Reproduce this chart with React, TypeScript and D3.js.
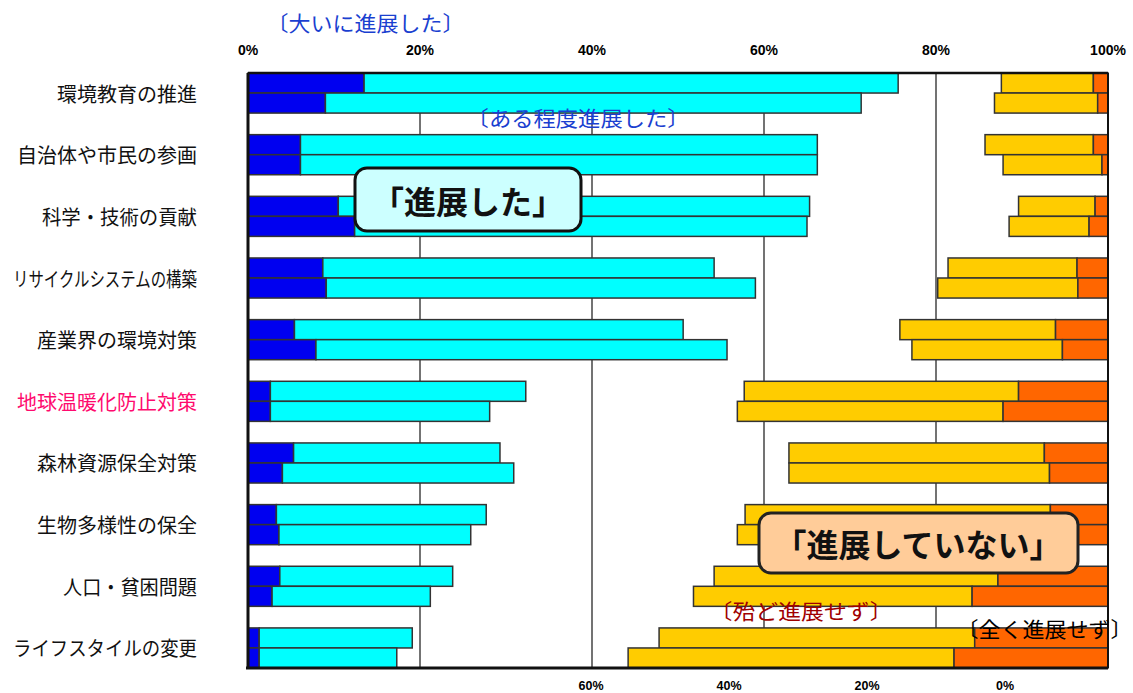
import React from "react";
import * as d3 from "d3";

// ---- data ----
const categories = [
  "環境教育の推進",
  "自治体や市民の参画",
  "科学・技術の貢献",
  "リサイクルシステムの構築",
  "産業界の環境対策",
  "地球温暖化防止対策",
  "森林資源保全対策",
  "生物多様性の保全",
  "人口・貧困問題",
  "ライフスタイルの変更",
];
const surveys = ["A", "B"];
// 〔大いに進展した〕
const greatProgress = [
  [13.5, 9.0], [6.1, 6.1], [10.5, 12.4], [8.7, 9.1], [5.4, 7.9],
  [2.6, 2.6], [5.3, 4.0], [3.3, 3.6], [3.7, 2.8], [1.3, 1.3],
];
// 〔ある程度進展した〕
const someProgress = [
  [62.1, 62.3], [60.1, 60.1], [54.8, 52.6], [45.5, 49.9], [45.2, 47.8],
  [29.7, 25.5], [24.0, 26.9], [24.4, 22.3], [20.1, 18.4], [17.8, 16.0],
];
// 〔殆ど進展せず〕
const littleProgress = [
  [10.7, 12.0], [12.6, 11.5], [8.9, 9.3], [15.0, 16.3], [18.1, 17.5],
  [31.9, 30.9], [29.7, 30.3], [35.5, 36.1], [33.0, 32.4], [36.7, 37.9],
];
// 〔全く進展せず〕
const noProgress = [
  [1.7, 1.2], [1.7, 0.7], [1.5, 2.2], [3.6, 3.5], [6.1, 5.3],
  [10.4, 12.2], [7.4, 6.8], [6.7, 7.0], [12.8, 15.8], [15.5, 17.9],
];
const topTicks = [0, 20, 40, 60, 80, 100];
const bottomTicks = [60, 40, 20, 0];
const highlighted = "地球温暖化防止対策";

// ---- styles ----
const COLORS = { great: "#0000f0", some: "#00ffff", little: "#ffcc00", none: "#ff6600" };
const labelWidths: Record<string, number> = {
  "リサイクルシステムの構築": 184,
  "ライフスタイルの変更": 184,
  "科学・技術の貢献": 155,
  "人口・貧困問題": 134,
};
const JP = "'Noto Sans CJK JP', 'Noto Sans', sans-serif";

export default function App() {
  const W = 1133, H = 693;
  const left = 248, right = 1108, top = 73, bottom = 668;
  const x = d3.scaleLinear().domain([0, 100]).range([left, right]);
  const xBottom = d3.scaleLinear().domain([0, 60]).range([1005, 591]);
  const y = d3.scaleBand<string>().domain(categories).range([top, bottom]).paddingInner(0.35).paddingOuter(0);
  const ySub = d3.scaleBand<string>().domain(surveys).range([0, y.bandwidth()]);

  const bars: any[] = [];
  categories.forEach((cat, i) => {
    surveys.forEach((s, j) => {
      const yy = (y(cat) as number) + (ySub(s) as number);
      const h = ySub.bandwidth();
      const a = greatProgress[i][j];
      const b = someProgress[i][j];
      const c = littleProgress[i][j];
      const d = noProgress[i][j];
      bars.push({ key: `${i}-${j}-g`, x0: 0, x1: a, y: yy, h, fill: COLORS.great });
      bars.push({ key: `${i}-${j}-s`, x0: a, x1: a + b, y: yy, h, fill: COLORS.some });
      bars.push({ key: `${i}-${j}-l`, x0: 100 - d - c, x1: 100 - d, y: yy, h, fill: COLORS.little });
      bars.push({ key: `${i}-${j}-n`, x0: 100 - d, x1: 100, y: yy, h, fill: COLORS.none });
    });
  });

  // visible span [v0, v1] of a bracketed annotation; brackets carry side bearings
  const ann = (txt: string, v0: number, v1: number, yc: number, fill: string) => {
    const fs = 21;
    return (
      <text x={v0 - 0.4 * fs} y={yc} dominantBaseline="central" fontFamily={JP} fontSize={fs} fill={fill}
        textLength={v1 - v0 + fs} lengthAdjust="spacingAndGlyphs">{txt}</text>
    );
  };

  return (
    <svg width={W} height={H} style={{ position: "absolute", left: 0, top: 0, background: "#fff" }}>
      {/* gridlines */}
      {topTicks.filter((t) => t > 0 && t < 100).map((t) => (
        <line key={t} x1={x(t)} x2={x(t)} y1={top} y2={bottom} stroke="#444" strokeWidth={1.5} />
      ))}
      {/* bars */}
      {bars.map((b) => (
        <rect key={b.key} x={x(b.x0)} y={b.y} width={x(b.x1) - x(b.x0)} height={b.h}
          fill={b.fill} stroke="#333" strokeWidth={1.5} />
      ))}
      {/* frame */}
      <line x1={left} x2={right} y1={top} y2={top} stroke="#111" strokeWidth={2.5} />
      <line x1={right} x2={right} y1={top} y2={bottom} stroke="#111" strokeWidth={2} />
      <line x1={left} x2={left} y1={top} y2={bottom} stroke="#111" strokeWidth={3} />
      <line x1={left - 2} x2={right} y1={bottom} y2={bottom} stroke="#111" strokeWidth={3} />
      {/* top ticks */}
      {topTicks.map((t) => (
        <text key={t} x={x(t)} y={50} textAnchor="middle" dominantBaseline="central"
          fontFamily="'Liberation Sans', Arial, sans-serif" fontWeight="bold" fontSize={14} fill="#000">
          {t}%
        </text>
      ))}
      {/* bottom ticks */}
      {bottomTicks.map((t) => (
        <text key={t} x={xBottom(t)} y={686} textAnchor="middle" dominantBaseline="central"
          fontFamily="'Liberation Sans', Arial, sans-serif" fontWeight="bold" fontSize={12.5} fill="#000">
          {t}%
        </text>
      ))}
      {/* category labels */}
      {categories.map((c) => (
        <text key={c} x={197} y={(y(c) as number) + y.bandwidth() / 2} textAnchor="end" dominantBaseline="central"
          fontFamily={JP} fontSize={20} fill={c === highlighted ? "#ff0a6e" : "#111"}
          {...(labelWidths[c] ? { textLength: labelWidths[c], lengthAdjust: "spacingAndGlyphs" } : {})}>
          {c}
        </text>
      ))}
      {/* series annotations */}
      {ann("〔大いに進展した〕", 275, 452, 22, "#1a3fd0")}
      {ann("〔ある程度進展した〕", 475, 677, 117, "#1a3fd0")}
      {ann("〔殆ど進展せず〕", 718, 880, 610, "#a00000")}
      {ann("〔全く進展せず〕", 965, 1120, 628, "#000")}
      {/* callout boxes */}
      <rect x={355} y={168} width={226} height={63} rx={12} fill="#ccffff" stroke="#111" strokeWidth={3} />
      <text x={468} y={200} textAnchor="middle" dominantBaseline="central" fontFamily={JP} fontWeight="bold" fontSize={32} fill="#111">「進展した」</text>
      <rect x={759} y={513} width={319} height={60} rx={12} fill="#ffcc99" stroke="#222" strokeWidth={3} />
      <text x={918} y={543} textAnchor="middle" dominantBaseline="central" fontFamily={JP} fontWeight="bold" fontSize={32} fill="#111">「進展していない」</text>
    </svg>
  );
}
